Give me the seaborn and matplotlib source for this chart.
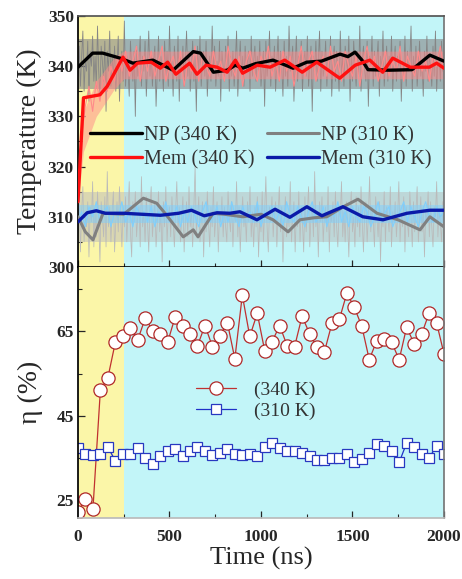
import numpy as np
import matplotlib
matplotlib.use("Agg")
import matplotlib.pyplot as plt
import seaborn as sns

# ---- raw (noisy) temperature traces, K ----
np340_raw = [338, 344, 336, 342, 347, 335, 341, 339, 345, 333, 343, 340, 346, 337, 342, 336, 348, 339, 334, 344,
             341, 337, 345, 331, 343, 339, 347, 336, 342, 338, 344, 335, 340, 346, 333, 341, 343, 337, 349, 336,
             342, 339, 334, 345, 340, 337, 343, 330, 344, 338, 341, 346, 336, 342, 339, 345, 334, 340, 347, 338,
             343, 336, 341, 344, 332, 339, 346, 337, 342, 340, 335, 345, 338, 343, 336, 348, 339, 341, 334, 344,
             340, 337, 346, 333, 342, 339, 344, 336, 341, 347, 338, 343, 335, 340, 345, 337, 342, 331, 344, 339,
             346, 336, 341, 343, 338, 345, 334, 340, 342, 337, 348, 339, 344, 336, 341, 338, 345, 333, 343, 340,
             337, 344, 339, 346, 335, 342, 338, 343, 336, 341, 347, 334, 340, 345, 338, 342, 336, 344, 339, 341,
             343, 335, 346, 338, 341, 344, 337, 342, 339, 345, 336, 340, 343, 332, 345, 338, 341, 347, 336, 342,
             339, 344, 335, 341, 346, 337, 343, 340, 334, 345, 338, 342, 336, 348, 339, 341, 344, 333, 340, 346,
             337, 342, 339, 345, 335, 341, 343, 338, 346, 336, 340, 344, 331, 342, 339, 345, 337, 341, 347, 335,
             343, 338, 340, 345, 336, 342, 339, 346, 334, 341, 344, 337, 343, 340, 335, 347, 338, 342, 336, 344,
             341, 339, 346, 333, 342, 337, 345, 340, 336, 343, 338, 348, 335, 341, 344, 339, 337, 345, 332, 342,
             340, 346, 336, 343, 338, 341, 345, 334, 342, 339, 347, 336, 340, 344, 337, 342, 339, 346, 335, 341,
             344, 337, 342, 340, 345, 333, 341, 338, 346, 336, 343, 339, 341, 348, 335, 342, 338, 344, 336, 340,
             345, 338, 341, 334, 343, 339, 346, 337, 342, 340, 336, 344, 338, 347, 335, 341, 343, 337, 345, 339, 342]
np310_raw = [307, 314, 303, 311, 316, 305, 310, 308, 313, 302, 312, 309, 317, 304, 311, 306, 315, 309, 301, 313,
             310, 306, 314, 304, 319, 308, 312, 305, 311, 315, 303, 309, 313, 307, 316, 310, 304, 312, 308, 314,
             305, 311, 317, 307, 302, 313, 309, 315, 306, 310, 312, 304, 318, 308, 311, 305, 314, 309, 303, 312,
             316, 306, 310, 313, 304, 309, 315, 307, 311, 301, 313, 308, 316, 305, 310, 312, 306, 314, 309, 304,
             311, 317, 307, 312, 305, 310, 314, 303, 309, 313, 306, 316, 308, 311, 304, 312, 320, 307, 310, 314,
             305, 309, 313, 302, 311, 307, 315, 309, 304, 312, 308, 316, 306, 310, 313, 303, 311, 309, 314, 306,
             312, 308, 305, 315, 310, 307, 313, 304, 311, 309, 317, 306, 312, 303, 310, 314, 308, 311, 305, 313,
             309, 316, 306, 311, 304, 312, 308, 314, 302, 310, 307, 315, 305, 311, 318, 308, 303, 312, 309, 314,
             306, 311, 313, 304, 310, 316, 307, 312, 301, 309, 314, 306, 311, 308, 317, 305, 310, 313, 303, 311,
             308, 315, 305, 312, 309, 303, 314, 307, 311, 316, 304, 310, 312, 306, 319, 308, 311, 302, 313, 309,
             314, 305, 310, 312, 307, 316, 303, 311, 309, 313, 306, 315, 308, 304, 312, 310, 317, 306, 311, 305,
             313, 309, 302, 311, 315, 307, 310, 304, 314, 308, 312, 306, 316, 309, 303, 311, 313, 305, 310, 318,
             307, 312, 309, 304, 314, 310, 306, 313, 301, 311, 308, 315, 305, 312, 310, 307, 316, 304, 311, 309,
             313, 306, 310, 317, 305, 311, 308, 314, 303, 312, 309, 306, 315, 310, 304, 313, 307, 311, 316, 305,
             310, 314, 307, 312, 302, 311, 309, 315, 306, 313, 308, 304, 312, 310, 317, 306, 311, 309, 305, 313, 308]
mem340_raw = [313, 326, 332, 336, 331, 337, 333, 338, 335, 340, 337, 342, 339, 343, 338, 341, 344, 337, 342, 339,
              343, 338, 341, 344, 337, 340, 342, 338, 343, 336, 341, 339, 344, 337, 342, 340, 338, 343, 339, 341,
              337, 344, 340, 338, 342, 336, 341, 343, 339, 337, 342, 340, 344, 338, 341, 337, 343, 339, 342, 336,
              340, 344, 338, 341, 343, 337, 340, 342, 338, 344, 339, 341, 337, 343, 340, 338, 342, 336, 341, 344,
              339, 342, 337, 340, 343, 338, 341, 339, 344, 337, 342, 340, 338, 343, 339, 341, 337, 342, 340, 344, 339]
mem310_raw = [309, 311, 308, 312, 310, 313, 309, 311, 312, 308, 311, 310, 313, 309, 311, 308, 312, 310, 311, 309,
              312, 308, 311, 310, 313, 309, 310, 312, 308, 311, 309, 312, 310, 308, 311, 313, 309, 310, 312, 308,
              311, 309, 313, 310, 308, 312, 310, 311, 309, 313, 308, 311, 310, 312, 309, 311, 308, 313, 310, 309,
              312, 310, 308, 311, 313, 309, 310, 312, 308, 311, 310, 313, 309, 311, 308, 312, 310, 309, 312, 311,
              308, 310, 313, 309, 311, 312, 308, 310, 311, 313, 309, 312, 310, 308, 311, 313, 310, 309, 312, 310, 311]

# dense core of each noisy trace (inner envelope)
band_t = [0, 30, 100, 200, 250, 2000]
np340_lo = [335.5, 335.5, 335.5, 335.5, 335.5, 335.5]
np340_hi = [345.5, 345.5, 345.5, 345.5, 345.5, 345.5]
mem340_lo = [313, 323, 330, 335.5, 337.5, 337.5]
mem340_hi = [314, 331, 337, 341.8, 343, 343]
np310_lo = [305, 305, 305, 305, 305, 305]
np310_hi = [315, 315, 315, 315, 315, 315]
mem310_lo = [308.8, 308.8, 308.8, 308.8, 308.8, 308.8]
mem310_hi = [312.3, 312.3, 312.3, 312.3, 312.3, 312.3]

# ---- smoothed temperature lines ----
np340_t = [0, 80, 135, 230, 300, 410, 520, 630, 670, 740, 815, 860, 900, 970, 1066, 1175, 1250, 1330,
           1432, 1475, 1514, 1552, 1585, 1700, 1825, 1923, 2000]
np340_T = [339.8, 342.6, 342.6, 341.6, 340.6, 341.2, 339.2, 342.9, 342.6, 338.8, 339.2, 340.2, 339.6, 340.5,
           341.2, 339.6, 340.8, 341.0, 342.4, 341.9, 342.8, 341.2, 339.3, 339.2, 339.3, 342.2, 341.0]
mem340_t = [0, 30, 120, 160, 246, 285, 325, 400, 450, 490, 535, 610, 650, 700, 760, 815, 860, 900, 980,
            1050, 1130, 1225, 1305, 1430, 1515, 1595, 1665, 1720, 1815, 1920, 1960, 2000]
mem340_T = [313.0, 333.7, 334.3, 336.0, 341.8, 339.2, 340.6, 340.8, 339.6, 340.8, 338.4, 340.6, 338.4, 340.2,
            339.8, 338.8, 341.2, 338.6, 340.2, 339.8, 341.2, 338.8, 340.8, 337.6, 340.2, 341.2, 338.8, 341.6,
            339.8, 339.8, 340.6, 339.6]
np310_t = [0, 40, 82, 137, 250, 357, 430, 480, 575, 630, 656, 738, 800, 900, 1000, 1066, 1148, 1213, 1290,
           1360, 1450, 1530, 1634, 1749, 1869, 1923, 2000]
np310_T = [310.0, 307.0, 305.4, 310.7, 310.5, 313.7, 312.7, 310.5, 306.0, 307.4, 306.0, 310.7, 310.5, 310.0,
           310.5, 309.4, 307.0, 309.4, 309.8, 310.0, 312.0, 313.5, 310.7, 309.4, 307.4, 310.0, 308.0]
mem310_t = [0, 50, 100, 150, 250, 350, 450, 550, 620, 690, 760, 830, 885, 978, 1077, 1158, 1251, 1333,
            1448, 1557, 1667, 1798, 1923, 2000]
mem310_T = [309.0, 310.8, 311.2, 310.7, 310.7, 310.5, 310.3, 310.7, 311.3, 310.2, 310.8, 310.7, 311.0, 309.4,
            311.5, 309.9, 312.0, 310.2, 312.0, 310.0, 309.4, 310.7, 311.3, 311.3]

# ---- efficiency (%) ----
eta340 = [22.1, 25.2, 22.8, 51.1, 54.0, 62.4, 64.0, 65.7, 63.0, 68.1, 65.2, 64.5, 62.4, 68.4, 66.4, 64.5,
          61.6, 66.4, 61.4, 64.0, 67.1, 58.5, 73.6, 63.8, 69.3, 60.4, 62.6, 66.4, 61.6, 61.4, 68.6, 64.5,
          61.2, 60.2, 66.9, 67.9, 74.1, 70.7, 66.2, 58.3, 62.8, 63.3, 62.4, 58.3, 66.0, 62.1, 64.3, 69.3,
          67.1, 59.7]
eta310 = [37.3, 35.9, 35.7, 35.8, 37.5, 34.3, 35.9, 35.9, 37.3, 34.9, 33.5, 35.5, 36.7, 37.1, 35.5, 36.7,
          37.6, 36.7, 35.7, 36.2, 37.0, 36.0, 35.7, 35.8, 35.3, 37.6, 38.5, 37.3, 36.7, 36.7, 36.2, 35.3,
          34.5, 34.5, 34.9, 34.9, 35.8, 33.9, 34.8, 36.2, 38.3, 37.7, 36.5, 33.9, 38.5, 37.5, 35.8, 35.0,
          37.7, 36.0]

t_raw_np = np.linspace(0, 2000, len(np340_raw))
t_raw_mem = np.linspace(0, 2000, len(mem340_raw))
t_eta = np.linspace(0, 2000, len(eta340))

sns.set_theme(style="ticks")
serif = ["Liberation Serif", "DejaVu Serif"]
plt.rcParams["font.family"] = serif
plt.rcParams["xtick.direction"] = "in"
plt.rcParams["ytick.direction"] = "in"

fig = plt.figure(figsize=(4.62, 5.79), dpi=100)
ax1 = fig.add_axes([0.1688, 0.5389, 0.7922, 0.4335])
ax2 = fig.add_axes([0.1688, 0.1054, 0.7922, 0.4335], sharex=ax1)

yellow = "#fbf6a8"
cyan = "#c2f5f8"
for ax in (ax1, ax2):
    ax.axvspan(0, 250, color=yellow, lw=0, zorder=0)
    ax.axvspan(250, 2000, color=cyan, lw=0, zorder=0)

# top panel: raw traces (soft core band + spiky trace) then smoothed lines
raw_sets = [
    (t_raw_np, np340_raw, np340_lo, np340_hi, "#858585", 0.6, 0.6),
    (t_raw_mem, mem340_raw, mem340_lo, mem340_hi, "#ff8a8a", 0.8, 0.5),
    (t_raw_np, np310_raw, np310_lo, np310_hi, "#bababa", 0.55, 0.5),
    (t_raw_mem, mem310_raw, mem310_lo, mem310_hi, "#80cffc", 0.8, 0.5),
]
for tt, yy, lo, hi, c_line, lw, alpha in raw_sets:
    ax1.fill_between(band_t, lo, hi, color=c_line, lw=0, alpha=alpha, zorder=1)
    sns.lineplot(x=tt, y=yy, ax=ax1, color=c_line, lw=lw, estimator=None, sort=False, zorder=1)

sns.lineplot(x=np340_t, y=np340_T, ax=ax1, color="black", lw=2.4, label="NP (340 K)", sort=False, zorder=3)
sns.lineplot(x=mem340_t, y=mem340_T, ax=ax1, color="#ff1010", lw=2.4, label="Mem (340 K)", sort=False, zorder=3)
sns.lineplot(x=np310_t, y=np310_T, ax=ax1, color="#808080", lw=2.2, label="NP (310 K)", sort=False, zorder=3)
sns.lineplot(x=mem310_t, y=mem310_T, ax=ax1, color="#0a1aa8", lw=2.4, label="Mem (310 K)", sort=False, zorder=3)

ax1.set_xlim(0, 2000)
ax1.set_ylim(300, 350)
ax1.set_yticks([300, 310, 320, 330, 340, 350])
ax1.set_yticks(np.arange(305, 350, 10), minor=True)
ax1.set_ylabel("Temperature (K)", fontsize=20, labelpad=4)
ax1.tick_params(axis="x", labelbottom=False)
ax1.legend(loc="center left", bbox_to_anchor=(0.0, 0.476), ncol=2, frameon=False,
           fontsize=14.5, handlelength=2.6, handletextpad=0.1, columnspacing=0.6,
           labelspacing=0.25, borderaxespad=0.2, labelcolor="#333333")

# bottom panel: efficiency
sns.lineplot(x=t_eta, y=eta340, ax=ax2, color="#c03030", lw=0.9, marker="o", markersize=9.5,
             markerfacecolor="white", markeredgecolor="#b02828", markeredgewidth=0.9,
             label="(340 K)", sort=False)
sns.lineplot(x=t_eta, y=eta310, ax=ax2, color="#2030c8", lw=0.9, marker="s", markersize=7.5,
             markerfacecolor="white", markeredgecolor="#2838c0", markeredgewidth=0.9,
             label="(310 K)", sort=False)
ax2.set_ylim(20.7, 80.3)
ax2.set_yticks([25, 45, 65])
ax2.set_yticks([35, 55, 75], minor=True)
ax2.set_xticks([0, 500, 1000, 1500, 2000])
ax2.set_xticks([250, 750, 1250, 1750], minor=True)
ax2.set_xlabel("Time (ns)", fontsize=19, labelpad=1)
ax2.set_ylabel("η (%)", fontsize=20, labelpad=10)
ax2.legend(loc="center left", bbox_to_anchor=(0.3, 0.468), frameon=False, fontsize=14,
           handlelength=2.1, handletextpad=0.9, labelspacing=0.2, borderaxespad=0.0,
           labelcolor="#333333")

for ax in (ax1, ax2):
    ax.tick_params(which="major", length=5, width=0.9, labelsize=12.5, pad=3)
    ax.tick_params(which="minor", length=3, width=0.8)
    for lab in ax.get_xticklabels() + ax.get_yticklabels():
        lab.set_fontweight("bold")
    ax.spines["left"].set_color("black")
    ax.spines["right"].set_color("#777777")
    ax.spines["top"].set_color("#555555")
    ax.grid(False)

ax2.tick_params(axis="x", which="major", pad=8)
ax1.spines["bottom"].set_color("black")
ax1.spines["bottom"].set_linewidth(1.2)
ax2.spines["top"].set_visible(False)
ax2.spines["bottom"].set_color("#bbbbbb")

fig.savefig("out.png", dpi=100)
